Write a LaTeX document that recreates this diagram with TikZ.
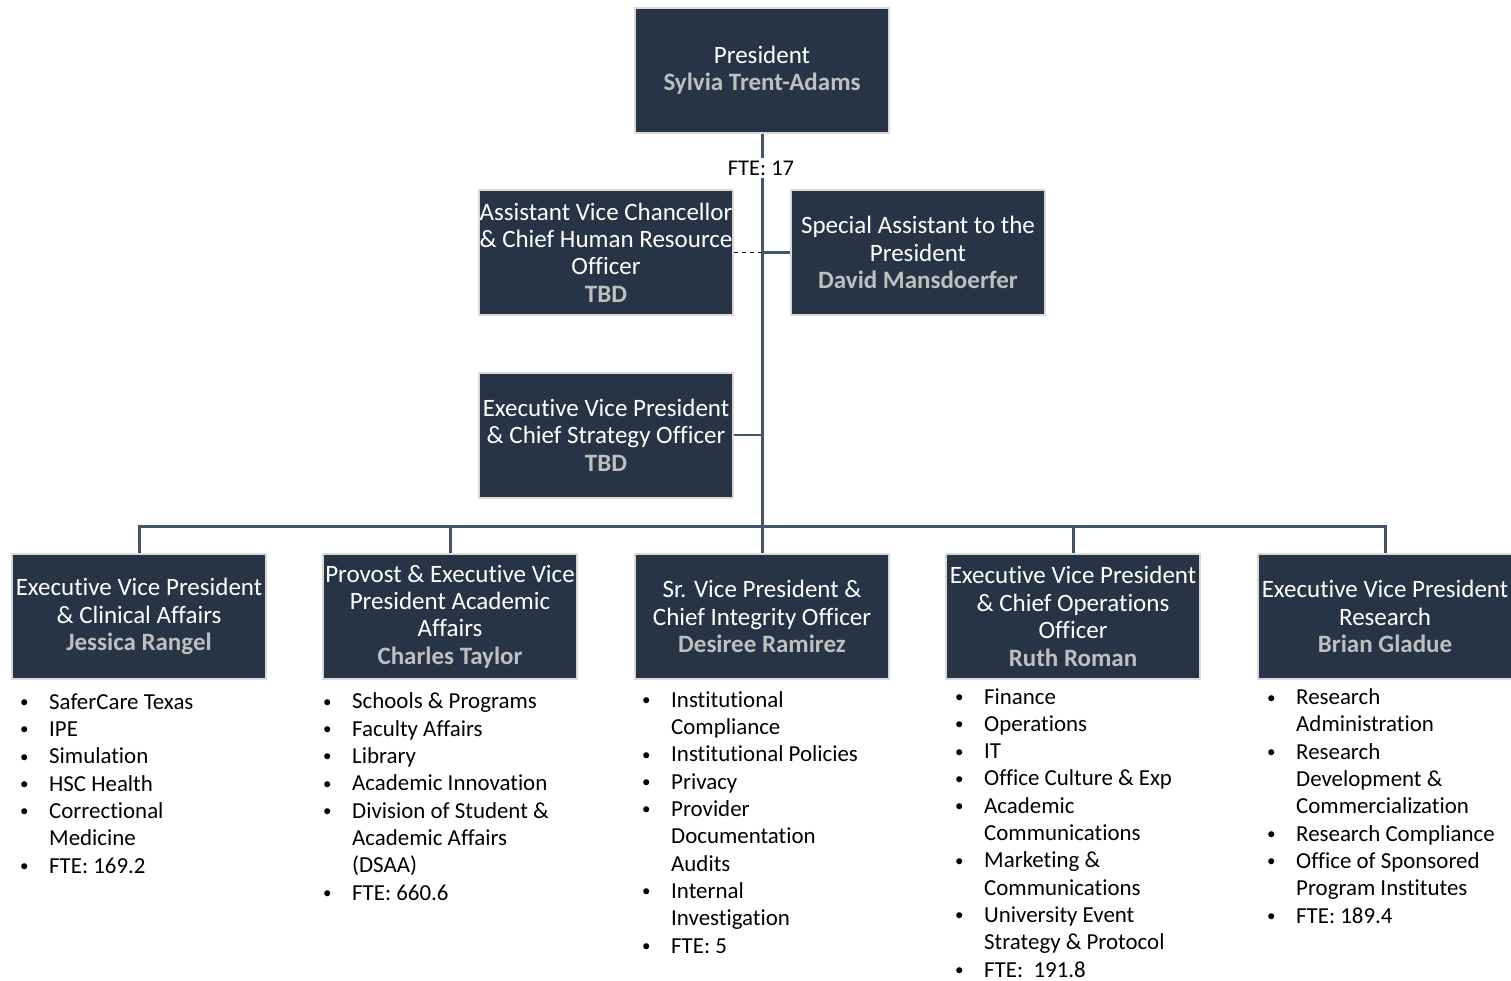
\documentclass[tikz,border=0pt]{standalone}
\usepackage{fontspec}
\setmainfont{Carlito}[Ligatures=NoCommon]
\definecolor{boxfill}{HTML}{263446}
\definecolor{boxborder}{HTML}{D9D9D9}
\definecolor{namegray}{HTML}{BFBFBF}
\definecolor{linecol}{HTML}{44546A}
\newcommand\nm[1]{{\bfseries\color{namegray}#1}}
\newcommand\bul{\makebox[29pt][l]{\raisebox{1.6pt}{\fontsize{17}{17}\selectfont\textbullet}}}
\newcommand\ind{\hspace*{29pt}}
\tikzset{
  orgbox/.style={fill=boxfill, draw=boxborder, line width=2pt, minimum width=254pt,
    minimum height=125pt, inner sep=0pt, text=white, align=center,
    font=\fontsize{25}{27.4}\selectfont},
  conn/.style={draw=linecol, line width=3pt},
  sideconn/.style={draw=linecol, line width=2.2pt},
  dashconn/.style={draw=black!90, line width=1.8pt, dash pattern=on 4pt off 4pt},
  blist/.style={anchor=base west, align=left, inner sep=0pt, text=black,
    font=\fontsize{22.9}{27.3}\selectfont},
}
\begin{document}
\begin{tikzpicture}[x=1pt,y=-1pt]
\useasboundingbox (0,0) rectangle (1511,980);
% boxes
\node[orgbox] (pres) at (762,70) {President\\\nm{Sylvia Trent-Adams}};
\node[orgbox] (avc) at (606,252.5) {Assistant Vice Chancellor\\\& Chief Human Resource\\Officer\\\nm{TBD}};
\node[orgbox] (spa) at (918,252.5) {Special Assistant to the\\President\\\nm{David Mansdoerfer}};
\node[orgbox] (evp) at (606,435) {Executive Vice President\\\& Chief Strategy Officer\\\nm{TBD}};
\node[orgbox] (b1) at (139,616.5) {Executive Vice President\\\& Clinical Affairs\\\nm{Jessica Rangel}};
\node[orgbox] (b2) at (450,616.5) {Provost \& Executive Vice\\President Academic\\Affairs\\\nm{Charles Taylor}};
\node[orgbox] (b3) at (762,616.5) {Sr. Vice President \&\\Chief Integrity Officer\\\nm{Desiree Ramirez}};
\node[orgbox] (b4) at (1073,616.5) {Executive Vice President\\\& Chief Operations\\Officer\\\nm{Ruth Roman}};
\node[orgbox] (b5) at (1385,616.5) {Executive Vice President\\Research\\\nm{Brian Gladue}};
% connectors
\coordinate (hb) at (762,526);
\draw[conn] (pres.south) -- (b3.north);
\node[fill=white, inner sep=3pt, font=\fontsize{22.5}{24}\selectfont] (fte) at (761,168) {FTE: 17};
\draw[dashconn] (avc.east) -- (avc.east -| pres.south);
\draw[sideconn] (spa.west) -- (spa.west -| pres.south);
\draw[sideconn] (evp.east) -- (evp.east -| pres.south);
\draw[conn] (b1.north) |- (hb) -| (b5.north);
\draw[conn] (b2.north) -- (b2.north |- hb);
\draw[conn] (b4.north) -- (b4.north |- hb);
% bullet lists (anchored at the baseline of their last line)
\node[blist] (l1) at (20,873) {\bul SaferCare Texas\\\bul IPE\\\bul Simulation\\\bul HSC Health\\\bul Correctional\\\ind Medicine\\\bul FTE: 169.2};
\node[blist] (l2) at (323,900) {\bul Schools \& Programs\\\bul Faculty Affairs\\\bul Library\\\bul Academic Innovation\\\bul Division of Student \&\\\ind Academic Affairs\\\ind (DSAA)\\\bul FTE: 660.6};
\node[blist] (l3) at (642,953) {\bul Institutional\\\ind Compliance\\\bul Institutional Policies\\\bul Privacy\\\bul Provider\\\ind Documentation\\\ind Audits\\\bul Internal\\\ind Investigation\\\bul FTE: 5};
\node[blist] (l4) at (955,977) {\bul Finance\\\bul Operations\\\bul IT\\\bul Office Culture \& Exp\\\bul Academic\\\ind Communications\\\bul Marketing \&\\\ind Communications\\\bul University Event\\\ind Strategy \& Protocol\\\bul FTE:~~191.8};
\node[blist] (l5) at (1267,923) {\bul Research\\\ind Administration\\\bul Research\\\ind Development \&\\\ind Commercialization\\\bul Research Compliance\\\bul Office of Sponsored\\\ind Program Institutes\\\bul FTE: 189.4};
\end{tikzpicture}
\end{document}
